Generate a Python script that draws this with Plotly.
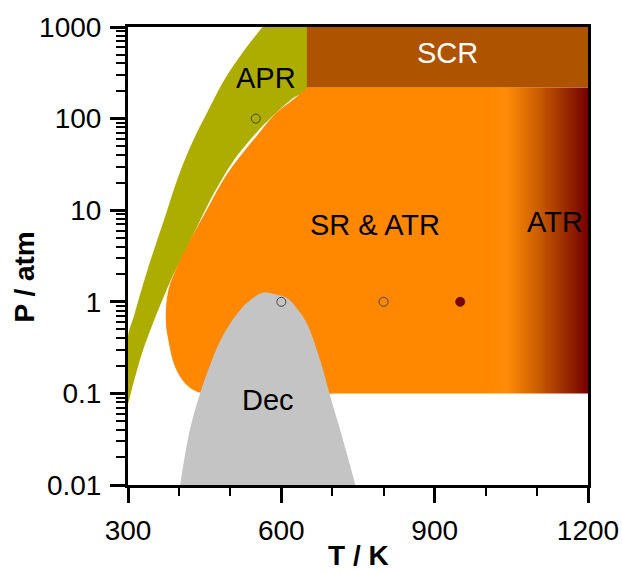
import math
import plotly.graph_objects as go

# ---------------- data ----------------
# APR region: lower-right boundary (from top to bottom)
apr_low_T = [650, 621, 581, 549, 516, 490, 464, 438, 413, 389, 367, 346, 327, 307, 300]
apr_low_P = [215, 165, 104, 68, 41, 25, 13.9, 7.1, 3.66, 2.0, 1.04, 0.53, 0.27, 0.109, 0.078]
# APR region: upper-left boundary (from bottom to top)
apr_left_T = [300, 312, 326, 341, 357, 374, 398, 425, 457, 490, 523, 563]
apr_left_P = [0.42, 0.71, 1.34, 2.51, 4.7, 9.0, 22.9, 53.7, 123, 274, 514, 1000]

# SR & ATR region: upper-left rounded boundary (from top to bottom)
sr_edge_T = [650, 621, 588, 555, 523, 490, 457, 425, 399, 379, 374, 379, 392, 412, 435, 460]
sr_edge_P = [215, 158, 113, 68, 41, 23, 10.8, 5.1, 2.62, 1.34, 0.63, 0.38, 0.195, 0.128, 0.104, 0.1]
sr_P_min = 0.1
sr_P_max = 218
sr_rect_T = [650, 1200]

# SCR region
scr_T = [650, 1200]
scr_P = [218, 1000]

# Decomposition region (Dec)
dec_T = [402, 421, 441, 460, 480, 500, 520, 540, 562, 585, 611, 630, 650, 676, 696, 715, 745]
dec_P = [0.01, 0.04, 0.1, 0.2, 0.37, 0.58, 0.82, 1.05, 1.25, 1.22, 1.1, 0.85, 0.58, 0.23, 0.092, 0.04, 0.01]

# experimental points
open_T = [550, 600, 800]
open_P = [100, 1, 1]
filled_T = [950]
filled_P = [1]

# ATR gradient (T range over which the colour darkens)
atr_T_start = 1000
atr_T_stop = 1200

# axes
x_ticks = [300, 600, 900, 1200]
y_ticks = [0.01, 0.1, 1, 10, 100, 1000]
y_ticktext = ["0.01", "0.1", "1", "10", "100", "1000"]

# colours
c_apr = "#adad00"
c_sr = "#ff8800"
c_scr = "#ae5400"
c_dec = "#c4c4c4"
c_atr = "#760000"

FONT = "Liberation Sans, Arial, sans-serif"

fig = go.Figure()

# APR polygon (closing edge runs along the top border)
apr_x = [scr_T[0]] + apr_low_T + apr_left_T
apr_y = [scr_P[1]] + apr_low_P + apr_left_P
fig.add_trace(go.Scatter(x=apr_x, y=apr_y, fill="toself", fillcolor=c_apr,
                         mode="lines", line=dict(width=0, shape="spline"),
                         hoverinfo="skip", showlegend=False))

# SR & ATR: rounded left part
sr_x = sr_edge_T + [sr_rect_T[0] + 50]
sr_y = sr_edge_P + [sr_P_min]
fig.add_trace(go.Scatter(x=sr_x, y=sr_y, fill="toself", fillcolor=c_sr,
                         mode="lines", line=dict(width=0, shape="spline"),
                         hoverinfo="skip", showlegend=False))

# SR & ATR: main block with horizontal gradient towards ATR
fig.add_trace(go.Scatter(
    x=[sr_rect_T[0], sr_rect_T[1], sr_rect_T[1], sr_rect_T[0]],
    y=[sr_P_min, sr_P_min, sr_P_max, sr_P_max],
    fill="toself", mode="lines", line=dict(width=0),
    fillgradient=dict(type="horizontal", start=atr_T_start, stop=atr_T_stop,
                      colorscale=[[0.0, c_sr], [0.04, c_sr], [0.2, "#ff8c08"],
                                  [0.5, "#cd5f00"], [0.74, "#a03200"],
                                  [1.0, c_atr]]),
    hoverinfo="skip", showlegend=False))

# SCR rectangle
fig.add_trace(go.Scatter(x=[scr_T[0], scr_T[1], scr_T[1], scr_T[0]],
                         y=[scr_P[0], scr_P[0], scr_P[1], scr_P[1]],
                         fill="toself", fillcolor=c_scr, mode="lines",
                         line=dict(width=0), hoverinfo="skip", showlegend=False))

# Dec region
fig.add_trace(go.Scatter(x=dec_T, y=dec_P, fill="toself", fillcolor=c_dec,
                         mode="lines", line=dict(width=0, shape="spline"),
                         hoverinfo="skip", showlegend=False))

# points
fig.add_trace(go.Scatter(x=open_T, y=open_P, mode="markers",
                         marker=dict(size=9, color="rgba(0,0,0,0)",
                                     line=dict(color="#444444", width=1)),
                         showlegend=False))
fig.add_trace(go.Scatter(x=filled_T, y=filled_P, mode="markers",
                         marker=dict(size=9, color="#800000",
                                     line=dict(color="#4a1a00", width=1)),
                         showlegend=False))

# region labels
labels = [
    ("APR", 570, 280, "black"),
    ("SCR", 925, 514, "white"),
    ("SR &amp; ATR", 784, 6.84, "black"),
    ("ATR", 1136, 7.4, "black"),
    ("Dec", 574, 0.0845, "black"),
]
for txt, tx, ty, col in labels:
    fig.add_annotation(x=tx, y=math.log10(ty), text=txt, showarrow=False,
                       xanchor="center", yanchor="middle",
                       font=dict(family=FONT, size=29, color=col))

# axis titles
fig.add_annotation(xref="paper", yref="paper", x=0.501, y=-0.155,
                   text="<b>T / K</b>", showarrow=False,
                   xanchor="center", yanchor="middle",
                   font=dict(family=FONT, size=28, color="black"))
fig.add_annotation(xref="paper", yref="paper", x=-0.224, y=0.455,
                   text="<b>P / atm</b>", showarrow=False, textangle=-90,
                   xanchor="center", yanchor="middle",
                   font=dict(family=FONT, size=28, color="black"))

fig.update_xaxes(range=[300, 1200], tickvals=x_ticks, ticks="outside",
                 ticklen=15, tickwidth=3, tickcolor="black", automargin=False,
                 ticklabelstandoff=3,
                 showline=True, linewidth=3, linecolor="black", mirror=True,
                 showgrid=False, zeroline=False,
                 tickfont=dict(family=FONT, size=28, color="black"),
                 minor=dict(ticks="outside", dtick=100, ticklen=8,
                            tickwidth=2, tickcolor="black", showgrid=False))
fig.update_yaxes(type="log", range=[-2, 3], tickvals=y_ticks,
                 ticktext=y_ticktext, ticks="outside", ticklen=15,
                 tickwidth=3, tickcolor="black", automargin=False,
                 ticklabelstandoff=3,
                 showline=True, linewidth=3, linecolor="black", mirror=True,
                 showgrid=False, zeroline=False,
                 tickfont=dict(family=FONT, size=28, color="black"),
                 minor=dict(ticks="outside", dtick="D1", ticklen=9,
                            tickwidth=2, tickcolor="black", showgrid=False))

fig.update_layout(width=622, height=573,
                  margin=dict(l=128, r=34, t=27, b=88, pad=0),
                  plot_bgcolor="white", paper_bgcolor="white",
                  showlegend=False)

fig.write_html("out.html")
